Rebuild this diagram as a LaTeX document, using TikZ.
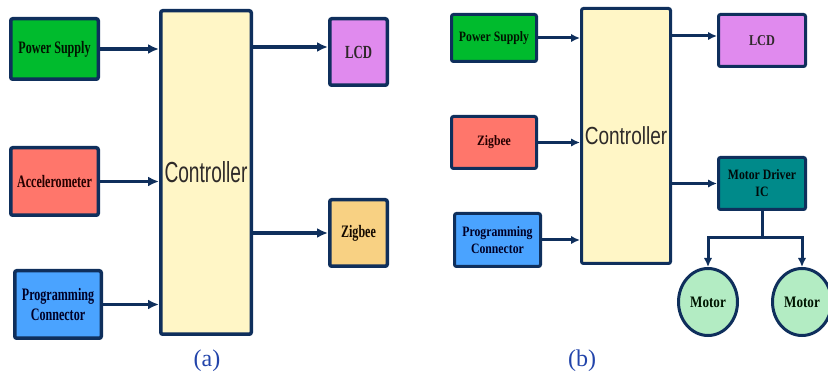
\documentclass[tikz,border=0pt]{standalone}
\usepackage{fontspec}
\setmainfont{Liberation Serif}
\newfontfamily\boxfontA[FakeStretch=0.69]{Liberation Serif}
\newfontfamily\boxfontB[FakeStretch=0.82]{Liberation Serif}
\newfontfamily\ctrlfontA[FakeStretch=0.66]{Liberation Sans}
\newfontfamily\ctrlfontB[FakeStretch=0.77]{Liberation Sans}
\usetikzlibrary{arrows.meta,shapes.geometric}

\definecolor{edge}{HTML}{0F2F5C}
\definecolor{psgreen}{HTML}{00BB2D}
\definecolor{accred}{HTML}{FF766B}
\definecolor{prgblue}{HTML}{4AA3FF}
\definecolor{ctrlyellow}{HTML}{FFF6C6}
\definecolor{lcdpink}{HTML}{E08AEE}
\definecolor{zigorange}{HTML}{F8D183}
\definecolor{mdteal}{HTML}{008A8A}
\definecolor{motgreen}{HTML}{B3ECC3}
\definecolor{capblue}{HTML}{2244AA}

\tikzset{
  x=1pt, y=-1pt,
  blkA/.style={draw=edge, line width=3.5pt, rounded corners=2pt, align=center,
    inner sep=0pt, font=\boxfontA\bfseries\fontsize{17.5}{20.5}\selectfont},
  blkB/.style={draw=edge, line width=3pt, rounded corners=2pt, align=center,
    inner sep=0pt, font=\boxfontB\bfseries\fontsize{14.3}{17}\selectfont},
  motorB/.style={draw=edge, line width=3pt, ellipse, fill=motgreen, inner sep=0pt,
    minimum width=59pt, minimum height=67pt, text=black!92!green,
    font=\boxfontB\bfseries\fontsize{16}{18}\selectfont},
  arrA/.style={draw=edge, line width=3.5pt, -{Latex[length=11pt,width=10pt]}},
  arrB/.style={draw=edge, line width=3pt, -{Latex[length=9pt,width=8.5pt]}},
  lnB/.style={draw=edge, line width=3pt},
  caption/.style={text=capblue, font=\fontsize{24}{26}\selectfont}
}

\begin{document}
\begin{tikzpicture}
\useasboundingbox (0,0) rectangle (828,379);

% ---------- panel (a) ----------
\node[blkA, fill=psgreen, text=black!92!green, minimum width=87.5pt, minimum height=60.5pt]
  (psA) at (54.5,49) {Power Supply};
\node[blkA, fill=accred, text=black!85!red, minimum width=87.5pt, minimum height=67.5pt]
  (accA) at (54.5,181.5) {Accelerometer};
\node[blkA, fill=prgblue, text=black!85!blue, minimum width=86.5pt, minimum height=67.5pt]
  (prgA) at (58,304.5) {Programming\\Connector};
\node[blkA, fill=ctrlyellow, text=black!95!yellow, minimum width=90.5pt, minimum height=323.5pt,
  font=\ctrlfontA\fontsize{29}{32}\selectfont]
  (ctrlA) at (206,172.5) {Controller};
\node[blkA, fill=lcdpink, text=black!95!magenta, minimum width=57.5pt, minimum height=66.5pt,
  font=\boxfontA\bfseries\fontsize{18.5}{20.5}\selectfont]
  (lcdA) at (358.5,52) {LCD};
\node[blkA, fill=zigorange, text=black!92!orange, minimum width=57.5pt, minimum height=66.5pt]
  (zigA) at (358.5,233) {Zigbee};

\coordinate (lcdAin) at ([yshift=5pt]lcdA.west);
\draw[arrA] (psA.east) -- (ctrlA.west |- psA.east);
\draw[arrA] (accA.east) -- (ctrlA.west |- accA.east);
\draw[arrA] (prgA.east) -- (ctrlA.west |- prgA.east);
\draw[arrA] (ctrlA.east |- lcdAin) -- (lcdAin);
\draw[arrA] (ctrlA.east |- zigA.west) -- (zigA.west);

\node[caption] (capA) at (207,361) {(a)};

% ---------- panel (b) ----------
\node[blkB, fill=psgreen, text=black!92!green, minimum width=85pt, minimum height=47pt]
  (psB) at (494,38) {Power Supply};
\node[blkB, fill=accred, text=black!85!red, minimum width=85pt, minimum height=52pt]
  (zigB) at (494,142.5) {Zigbee};
\node[blkB, fill=prgblue, text=black!85!blue, minimum width=86pt, minimum height=53pt]
  (prgB) at (497.5,240) {Programming\\Connector};
\node[blkB, fill=ctrlyellow, text=black!95!yellow, minimum width=89pt, minimum height=255pt,
  font=\ctrlfontB\fontsize{24.7}{28}\selectfont]
  (ctrlB) at (626,136) {Controller};
\node[blkB, fill=lcdpink, text=black!95!magenta, minimum width=87pt, minimum height=52pt,
  font=\boxfontB\bfseries\fontsize{15}{17}\selectfont]
  (lcdB) at (762,40.5) {LCD};
\node[blkB, fill=mdteal, text=black!92!teal, minimum width=87pt, minimum height=52pt]
  (mdB) at (762,183.5) {Motor Driver\\IC};
\node[motorB] (motL) at (708,302) {Motor};
\node[motorB] (motR) at (802,302) {Motor};

\coordinate (lcdBin) at ([yshift=4.5pt]lcdB.west);
\draw[arrB] (psB.east) -- (ctrlB.west |- psB.east);
\draw[arrB] (zigB.east) -- (ctrlB.west |- zigB.east);
\draw[arrB] (prgB.east) -- (ctrlB.west |- prgB.east);
\draw[arrB] (ctrlB.east |- lcdBin) -- (lcdBin);
\draw[arrB] (ctrlB.east |- mdB.west) -- (mdB.west);

\coordinate (split) at (762,238);
\draw[lnB] (mdB.south) -- (split);
\draw[arrB] (split) -| (motL.north);
\draw[arrB] (split) -| (motR.north);

\node[caption] (capB) at (582,361) {(b)};
\end{tikzpicture}
\end{document}
